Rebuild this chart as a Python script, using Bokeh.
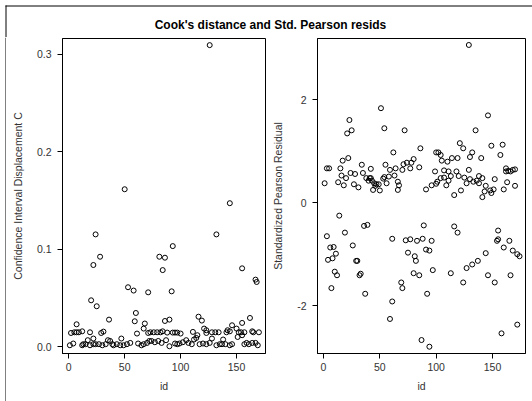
from bokeh.plotting import figure
from bokeh.layouts import row, column
from bokeh.models import Range1d, FixedTicker, PrintfTickFormatter
from bokeh.embed import file_html
from bokeh.resources import INLINE
from bokeh.core.properties import value

title_text = "Cook's distance and Std. Pearson resids"
x_label = "id"
cook_label = "Confidence Interval Displacement C"
res_label = "Standardized Pearson Residual"
x_ticks = [0, 50, 100, 150]
cook_ticks = [0.0, 0.1, 0.2, 0.3]
res_ticks = [-2, 0, 2]
res_tick_labels = ["-2", "0", "2"]

cook_id = [1, 2, 4, 5, 7, 7, 9, 12, 12, 13, 15, 17, 19, 19, 20, 22, 22, 22, 24, 24,
           25, 27, 28, 29, 30, 31, 33, 35, 36, 37, 39, 40, 43, 46, 47, 49, 50, 52, 53, 55,
           58, 59, 60, 61, 62, 65, 67, 67, 68, 70, 71, 71, 72, 73, 74, 76, 77, 79, 80, 81,
           82, 83, 84, 84, 86, 86, 87, 88, 90, 90, 92, 93, 93, 95, 95, 97, 97, 99, 100, 102,
           105, 107, 110, 111, 112, 114, 115, 116, 117, 119, 120, 121, 123, 123, 123, 126, 126, 128, 128, 131,
           132, 132, 134, 135, 137, 138, 140, 141, 142, 144, 144, 144, 146, 146, 150, 151, 152, 154, 155, 155,
           155, 157, 157, 159, 161, 162, 164, 164, 165, 167, 167, 168, 169, 170]
cook_c = [0.0017, 0.0143, 0.0035, 0.0150, 0.0232, 0.0150, 0.0150, 0.0160, 0.0017, 0.0028,
          0.0028, 0.0069, 0.0150, 0.0017, 0.0478, 0.0840, 0.0086, 0.0028, 0.1154, 0.0028,
          0.0417, 0.0028, 0.0925, 0.0143, 0.0017, 0.0157, 0.0028, 0.0069, 0.0280, 0.0061,
          0.0028, 0.0017, 0.0028, 0.0017, 0.0086, 0.0017, 0.1617, 0.0028, 0.0612, 0.0041,
          0.0578, 0.0263, 0.0348, 0.0137, 0.0035, 0.0017, 0.0188, 0.0028, 0.0240, 0.0041,
          0.0560, 0.0143, 0.0061, 0.0150, 0.0061, 0.0150, 0.0048, 0.0150, 0.0061, 0.0925,
          0.0150, 0.0041, 0.0160, 0.0788, 0.0915, 0.0266, 0.0069, 0.0147, 0.0280, 0.0007,
          0.0570, 0.0147, 0.1034, 0.0147, 0.0035, 0.0147, 0.0028, 0.0035, 0.0137, 0.0048,
          0.0069, 0.0041, 0.0028, 0.0154, 0.0076, 0.0092, 0.0120, 0.0310, 0.0028, 0.0270,
          0.0035, 0.0188, 0.0171, 0.0143, 0.0028, 0.3095, 0.0041, 0.0150, 0.0086, 0.0150,
          0.1154, 0.0017, 0.0150, 0.0028, 0.0028, 0.0076, 0.0028, 0.0150, 0.0171, 0.1474,
          0.0160, 0.0017, 0.0222, 0.0028, 0.0188, 0.0102, 0.0150, 0.0150, 0.0806, 0.0246,
          0.0120, 0.0150, 0.0028, 0.0041, 0.0028, 0.0297, 0.0160, 0.0041, 0.0150, 0.0690,
          0.0041, 0.0666, 0.0017, 0.0150]

res_id = [1, 3, 3, 4, 5, 6, 7, 8, 9, 10, 11, 12, 13, 14, 15, 16, 17, 18, 19, 20,
          21, 22, 23, 24, 25, 26, 27, 28, 29, 30, 31, 32, 33, 34, 35, 36, 37, 38, 39, 40,
          41, 42, 42, 43, 44, 45, 46, 47, 49, 50, 51, 53, 54, 54, 55, 56, 58, 59, 59, 61,
          61, 62, 63, 64, 66, 66, 67, 69, 70, 70, 71, 72, 73, 74, 75, 77, 77, 78, 80, 80,
          81, 82, 83, 85, 85, 86, 87, 88, 89, 91, 91, 92, 94, 94, 96, 96, 97, 99, 100, 100,
          101, 102, 104, 104, 105, 107, 107, 109, 110, 111, 111, 113, 113, 114, 116, 116, 118, 119, 119, 120,
          121, 122, 124, 124, 125, 127, 127, 129, 129, 130, 130, 132, 132, 133, 135, 136, 137, 138, 138, 140,
          141, 141, 143, 144, 144, 146, 146, 148, 149, 149, 151, 152, 152, 154, 155, 155, 157, 158, 159, 160,
          160, 162, 162, 163, 164, 165, 166, 166, 168, 168, 170, 170, 172, 172, 174]
res_val = [0.38, 0.67, -0.65, -1.11, 0.67, -0.87, -1.66, -1.08, -0.86, -1.34,
           -0.99, -1.41, 0.40, -0.25, 0.67, 0.53, 0.82, 0.34, -0.58, 0.48,
           1.35, 0.87, 1.61, 0.58, 1.41, -0.83, 0.36, 0.56, -1.13, -1.13,
           0.30, -1.41, -1.38, 0.74, 0.58, -0.45, -1.77, 0.48, -0.43, 0.43,
           0.48, 0.66, 0.48, 0.43, 0.25, 0.38, 0.33, 0.36, 0.36, 0.24,
           1.84, 0.47, 0.50, 1.45, 0.74, 0.38, 0.51, 0.64, -2.26, -0.70,
           -1.92, 0.98, 0.53, 0.67, 0.41, 0.25, 0.34, -1.55, 0.64, -1.66,
           0.75, 1.41, -0.73, 0.78, -0.97, 0.67, -0.71, 0.78, 0.85, -1.37,
           -1.04, -1.13, -0.74, 0.69, -1.41, 1.06, -2.67, -0.70, -0.44, 0.26,
           -0.91, -1.77, -0.93, -2.80, 0.34, -0.74, -1.31, 0.61, 0.98, 0.37,
           0.41, 0.98, 0.93, 0.48, 0.82, 0.63, 0.49, 0.34, 0.80, 0.61,
           0.43, 0.52, -1.37, 0.87, 0.15, -0.46, 0.61, 0.87, -0.58, 0.52,
           1.16, 0.24, 1.06, -1.55, 0.49, 0.38, -1.27, 3.07, 0.64, 0.89,
           0.46, 0.98, -1.20, 0.41, 1.41, 0.43, -1.13, 0.52, 0.38, 0.87,
           0.48, 0.11, 0.22, 0.33, -0.98, 1.70, -1.41, 0.24, 1.11, 0.19,
           0.26, 0.46, -1.55, -0.74, -0.71, -0.54, 0.93, -2.54, 1.13, 0.26,
           -0.87, 0.67, 0.61, 0.40, 0.62, -0.74, 0.61, -1.41, 0.64, -0.93,
           0.65, 0.33, -1.00, -2.37, -1.04]

FONT = "Liberation Sans"
TXT = "#333333"
LINE = "#000000"


def bare(w, h, xr, yr):
    p = figure(width=w, height=h, x_range=xr, y_range=yr, min_border=0,
               toolbar_location=None, output_backend="svg")
    p.axis.visible = False
    p.grid.visible = False
    p.outline_line_color = None
    p.frame_align = False
    return p


# title band with the top/left border
top = bare(532, 37, Range1d(0, 532), Range1d(37, 0))
top.segment(x0=[5, 5.5], y0=[5.5, 5], x1=[532, 5.5], y1=[5.5, 37], line_color="black", line_width=1)
top.text(x=[270], y=[24], text=[title_text], text_align="center", text_baseline="middle",
         text_font=value(FONT), text_font_size="12px", text_font_style="bold", text_color="black")

edge = bare(6, 364, Range1d(0, 6), Range1d(364, 0))
edge.segment(x0=[5.5], y0=[0], x1=[5.5], y1=[364], line_color="black", line_width=1)


def panel(w, left, right, xr, yr, ylabel, yticks):
    p = figure(width=w, height=364, x_range=xr, y_range=yr, toolbar_location=None,
               output_backend="svg", min_border_left=left, min_border_right=right,
               min_border_top=1, min_border_bottom=48)
    p.grid.visible = False
    p.outline_line_color = LINE
    p.xaxis.ticker = FixedTicker(ticks=x_ticks)
    p.yaxis.ticker = FixedTicker(ticks=yticks)
    p.xaxis.axis_label = x_label
    p.yaxis.axis_label = ylabel
    for ax in (p.xaxis[0], p.yaxis[0]):
        ax.axis_label_text_font = FONT
        ax.axis_label_text_font_size = "10.5px"
        ax.axis_label_text_font_style = "normal"
        ax.axis_label_text_color = TXT
        ax.major_label_text_font = FONT
        ax.major_label_text_font_size = "10.5px"
        ax.major_label_text_color = TXT
        ax.major_tick_out = 5
        ax.major_tick_in = 0
        ax.minor_tick_out = 0
        ax.minor_tick_in = 0
        ax.axis_line_color = LINE
        ax.major_tick_line_color = LINE
    p.xaxis.major_label_standoff = 4
    p.xaxis.axis_label_standoff = 6
    p.yaxis.major_label_standoff = 6
    p.yaxis.axis_label_standoff = 10
    return p


p1 = panel(262, 56, 3, Range1d(-5.6, 175.9), Range1d(-0.00675, 0.3163), cook_label, cook_ticks)
p1.yaxis.formatter = PrintfTickFormatter(format="%.1f")
p1.scatter(x=cook_id, y=cook_c, marker="circle", size=5, fill_color=None,
           line_color="black", line_width=1)

p2 = panel(264, 49, 7, Range1d(-5.33, 179.3), Range1d(-2.932, 3.196), res_label, res_ticks)
p2.yaxis.major_label_overrides = dict(zip(res_ticks, res_tick_labels))
p2.scatter(x=res_id, y=res_val, marker="circle", size=5, fill_color=None,
           line_color="black", line_width=1)

layout = column(top, row(edge, p1, p2, spacing=0), spacing=0)
open("out.html", "w").write(file_html(layout, INLINE))
